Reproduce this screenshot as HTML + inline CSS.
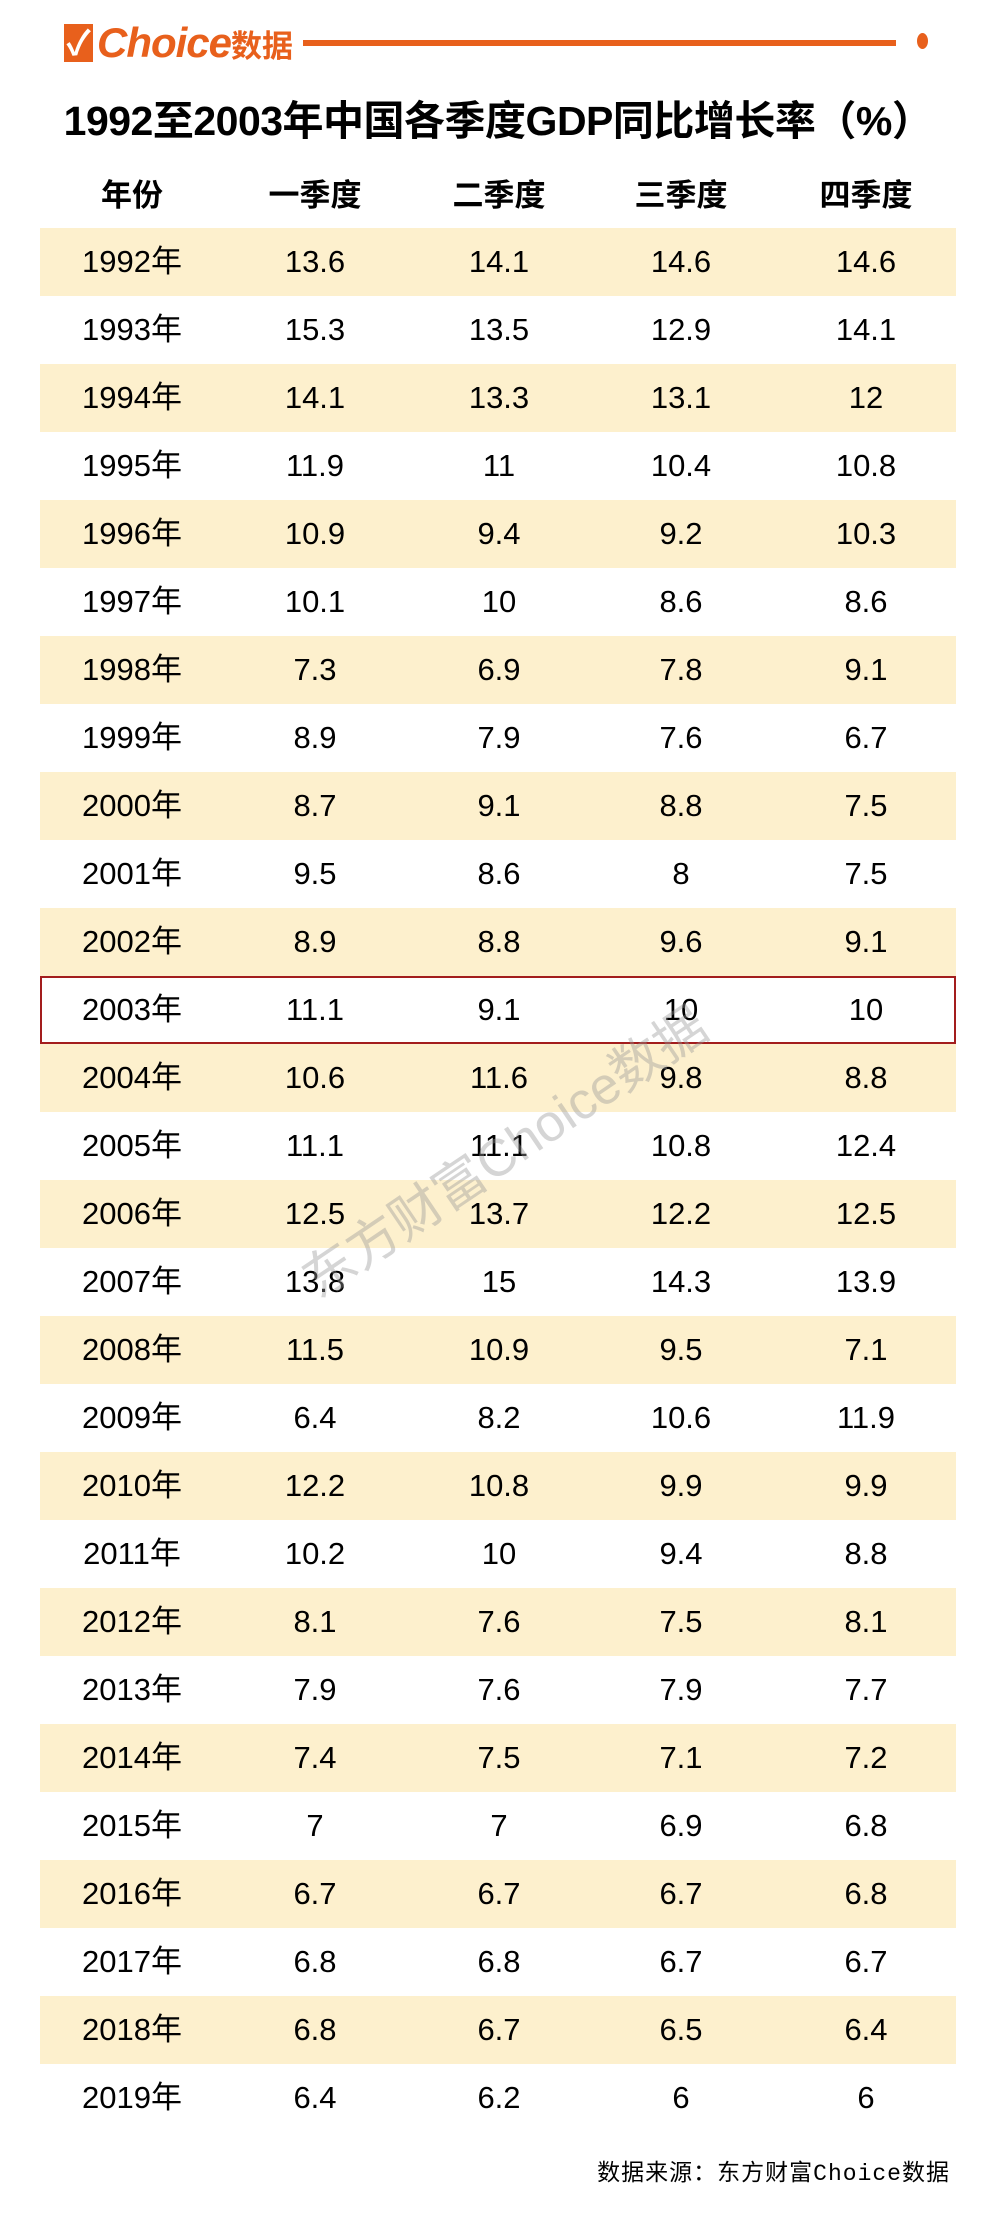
<!DOCTYPE html>
<html><head><meta charset="utf-8"><style>
*{margin:0;padding:0;box-sizing:border-box}
body{width:996px;height:2213px;background:#fff;position:relative;overflow:hidden;font-family:"Liberation Sans","Noto Sans CJK SC",sans-serif;color:#000}
.abs{position:absolute}
.row{position:absolute;left:40px;width:916px;height:68px}
.row.s{background:#fdf0cd}
.c{position:absolute;top:0;height:68px;line-height:68px;font-size:31px;text-align:center;width:200px}
.h .c{font-weight:bold;font-size:31px}
</style></head><body>
<div class="abs" style="left:64px;top:24px;width:29px;height:38px;background:#e8601c;color:#fff;font-size:34px;line-height:40px;text-align:center;font-weight:bold">✓</div>
<div class="abs" style="left:97px;top:18px;height:50px;line-height:50px;color:#e8601c;font-size:42px;font-weight:bold;font-style:italic;letter-spacing:-1px">Choice<span style="font-style:normal;font-size:31px;letter-spacing:0">数据</span></div>
<div class="abs" style="left:303px;top:40px;width:593px;height:6px;background:#e8601c"></div>
<div class="abs" style="left:917px;top:33px;width:11px;height:16px;border-radius:50%;background:#e8601c"></div>
<div class="abs" style="left:0;top:94px;width:996px;text-align:center;font-size:41px;font-weight:bold;line-height:54px;letter-spacing:-0.5px">1992至2003年中国各季度GDP同比增长率（%）</div>
<div id="t"></div>
<div class="abs" style="left:40px;top:976px;width:916px;height:68px;border:2px solid #a31d1d"></div>
<div class="abs" style="left:285px;top:1250px;transform:rotate(-34deg);transform-origin:left top;font-size:52px;color:rgba(150,150,150,0.4);white-space:nowrap">东方财富Choice数据</div>
<div class="abs" style="right:46px;top:2158px;font-size:23px;line-height:32px;font-family:'Liberation Mono','WenQuanYi Zen Hei',monospace;letter-spacing:1px">数据来源：东方财富Choice数据</div>
<script>
var d=[["1992",13.6,14.1,14.6,14.6],["1993",15.3,13.5,12.9,14.1],["1994",14.1,13.3,13.1,12],["1995",11.9,11,10.4,10.8],["1996",10.9,9.4,9.2,10.3],["1997",10.1,10,8.6,8.6],["1998",7.3,6.9,7.8,9.1],["1999",8.9,7.9,7.6,6.7],["2000",8.7,9.1,8.8,7.5],["2001",9.5,8.6,8,7.5],["2002",8.9,8.8,9.6,9.1],["2003",11.1,9.1,10,10],["2004",10.6,11.6,9.8,8.8],["2005",11.1,11.1,10.8,12.4],["2006",12.5,13.7,12.2,12.5],["2007",13.8,15,14.3,13.9],["2008",11.5,10.9,9.5,7.1],["2009",6.4,8.2,10.6,11.9],["2010",12.2,10.8,9.9,9.9],["2011",10.2,10,9.4,8.8],["2012",8.1,7.6,7.5,8.1],["2013",7.9,7.6,7.9,7.7],["2014",7.4,7.5,7.1,7.2],["2015",7,7,6.9,6.8],["2016",6.7,6.7,6.7,6.8],["2017",6.8,6.8,6.7,6.7],["2018",6.8,6.7,6.5,6.4],["2019",6.4,6.2,6,6]];
var cx=[132,315,499,681,866],h='';
function row(cells,top,cls){var s='<div class="row '+cls+'" style="top:'+top+'px">';for(var i=0;i<5;i++)s+='<div class="c" style="left:'+(cx[i]-40-100)+'px">'+cells[i]+'</div>';return s+'</div>';}
h+=row(["年份","一季度","二季度","三季度","四季度"],162,"h");
d.forEach(function(r,i){h+=row([r[0]+"年",r[1],r[2],r[3],r[4]],228+i*68,i%2==0?"s":"");});
document.getElementById('t').innerHTML=h;
</script>
</body></html>
